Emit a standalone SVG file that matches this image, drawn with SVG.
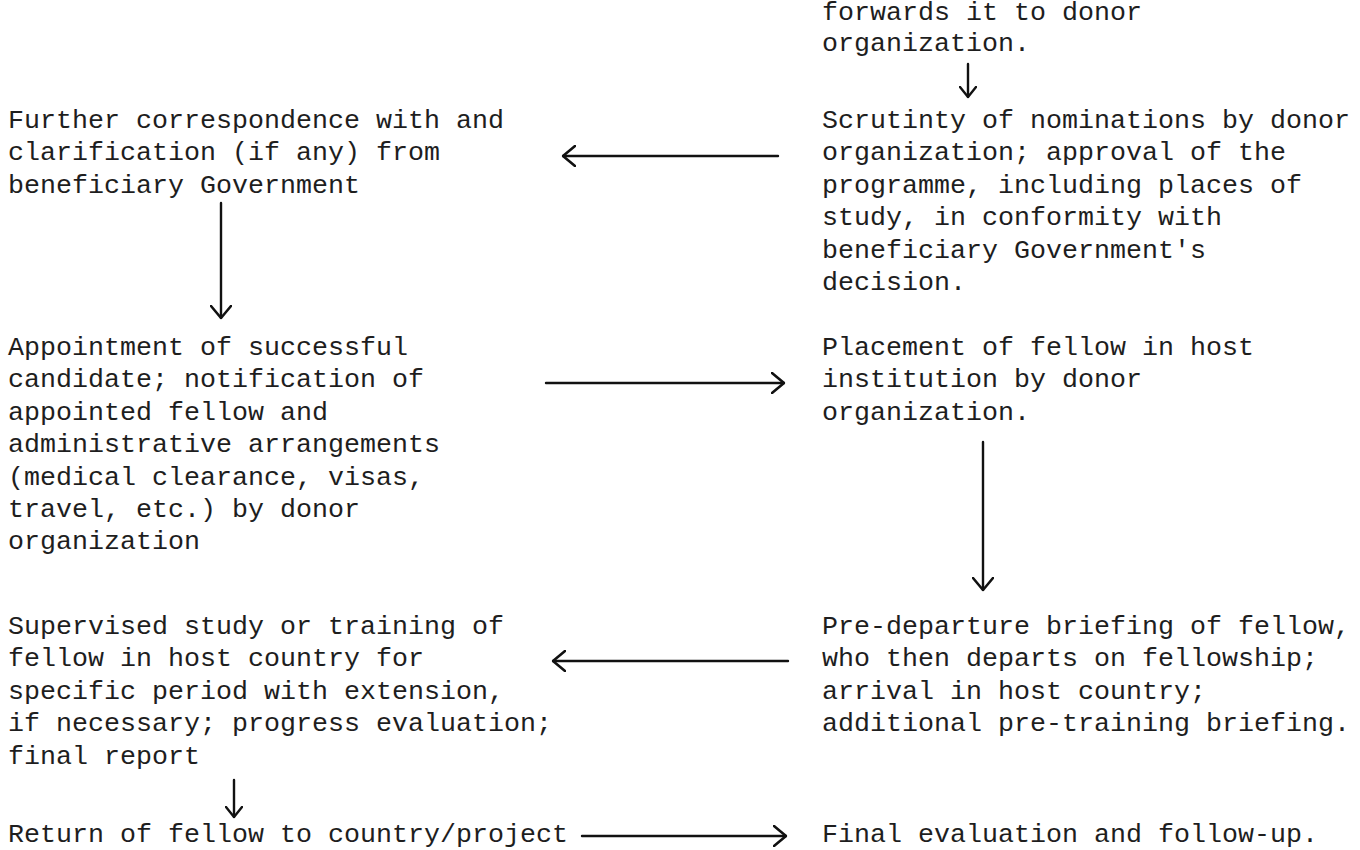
<svg xmlns="http://www.w3.org/2000/svg" width="1360" height="850" viewBox="0 0 1360 850">
<style>
  .t { font-family: "Liberation Mono", "Courier New", monospace; font-size: 26.67px; fill: #1e1e1e; }
  .c { stroke: #111; stroke-width: 2.4; fill: none; stroke-linecap: round; }
</style>
<defs>
  <marker id="head" viewBox="0 0 14 22" refX="13" refY="11" markerWidth="14" markerHeight="22" markerUnits="userSpaceOnUse" orient="auto">
    <path d="M1,1 L13,11 L1,21" fill="none" stroke="#111" stroke-width="2.6" stroke-linecap="round" stroke-linejoin="round"/>
  </marker>
  <marker id="headS" viewBox="0 0 12 18" refX="11" refY="9" markerWidth="12" markerHeight="18" markerUnits="userSpaceOnUse" orient="auto">
    <path d="M1,1 L11,9 L1,17" fill="none" stroke="#111" stroke-width="2.4" stroke-linecap="round" stroke-linejoin="round"/>
  </marker>
</defs>
<rect width="1360" height="850" fill="#ffffff"/>

<g id="n-forwards">
  <text class="t" x="822" y="20">forwards it to donor</text>
  <text class="t" x="822" y="51">organization.</text>
</g>

<g id="n-scrutiny">
  <text class="t" x="822" y="128">Scrutinty of nominations by donor</text>
  <text class="t" x="822" y="160.4">organization; approval of the</text>
  <text class="t" x="822" y="192.8">programme, including places of</text>
  <text class="t" x="822" y="225.2">study, in conformity with</text>
  <text class="t" x="822" y="257.6">beneficiary Government's</text>
  <text class="t" x="822" y="290">decision.</text>
</g>

<g id="n-correspondence">
  <text class="t" x="8" y="128">Further correspondence with and</text>
  <text class="t" x="8" y="160.4">clarification (if any) from</text>
  <text class="t" x="8" y="192.8">beneficiary Government</text>
</g>

<g id="n-appointment">
  <text class="t" x="8" y="355">Appointment of successful</text>
  <text class="t" x="8" y="387.4">candidate; notification of</text>
  <text class="t" x="8" y="419.8">appointed fellow and</text>
  <text class="t" x="8" y="452.2">administrative arrangements</text>
  <text class="t" x="8" y="484.6">(medical clearance, visas,</text>
  <text class="t" x="8" y="517">travel, etc.) by donor</text>
  <text class="t" x="8" y="549.4">organization</text>
</g>

<g id="n-placement">
  <text class="t" x="822" y="355">Placement of fellow in host</text>
  <text class="t" x="822" y="387.4">institution by donor</text>
  <text class="t" x="822" y="419.8">organization.</text>
</g>

<g id="n-predeparture">
  <text class="t" x="822" y="634">Pre-departure briefing of fellow,</text>
  <text class="t" x="822" y="666.4">who then departs on fellowship;</text>
  <text class="t" x="822" y="698.8">arrival in host country;</text>
  <text class="t" x="822" y="731.2">additional pre-training briefing.</text>
</g>

<g id="n-supervised">
  <text class="t" x="8" y="634">Supervised study or training of</text>
  <text class="t" x="8" y="666.4">fellow in host country for</text>
  <text class="t" x="8" y="698.8">specific period with extension,</text>
  <text class="t" x="8" y="731.2">if necessary; progress evaluation;</text>
  <text class="t" x="8" y="763.6">final report</text>
</g>

<g id="n-return">
  <text class="t" x="8" y="842">Return of fellow to country/project</text>
</g>

<g id="n-final">
  <text class="t" x="822" y="842">Final evaluation and follow-up.</text>
</g>

<g id="connectors">
  <line class="c" x1="968" y1="64" x2="968" y2="97" marker-end="url(#headS)"/>
  <line class="c" x1="778" y1="156" x2="563" y2="156" marker-end="url(#head)"/>
  <line class="c" x1="221" y1="203" x2="221" y2="318" marker-end="url(#head)"/>
  <line class="c" x1="546" y1="383" x2="784" y2="383" marker-end="url(#head)"/>
  <line class="c" x1="983" y1="442" x2="983" y2="590" marker-end="url(#head)"/>
  <line class="c" x1="788" y1="661" x2="553" y2="661" marker-end="url(#head)"/>
  <line class="c" x1="234" y1="780" x2="234" y2="817" marker-end="url(#headS)"/>
  <line class="c" x1="582" y1="836" x2="786" y2="836" marker-end="url(#head)"/>
</g>
</svg>
